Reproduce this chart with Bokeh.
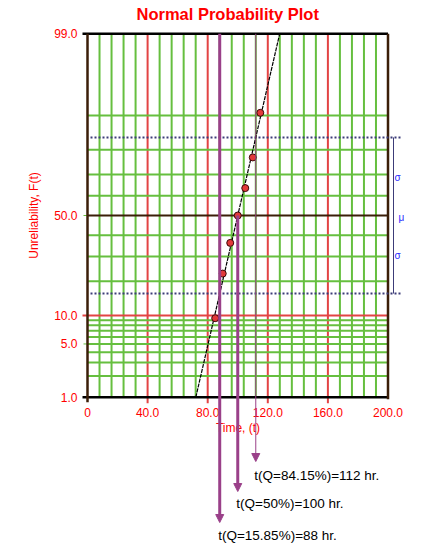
from statistics import NormalDist
from bokeh.plotting import figure
from bokeh.models import Range1d, LinearAxis, FixedTicker, Arrow, NormalHead
from bokeh.core.properties import value
from bokeh.embed import file_html
from bokeh.resources import INLINE

# ---- data ----
times = [85, 90, 95, 100, 105, 110, 115]
unreliability = [9.43, 22.85, 36.29, 50.0, 63.71, 77.15, 90.57]
fit_time = [72.1, 127.9]
fit_F = [1.0, 99.0]
q_times = [112, 100, 88]
q_F = [84.15, 50.0, 15.85]
q_labels = ["t(Q=84.15%)=112 hr.", "t(Q=50%)=100 hr.", "t(Q=15.85%)=88 hr."]
x_ticks = [0, 40, 80, 120, 160, 200]
x_tick_labels = ["0", "40.0", "80.0", "120.0", "160.0", "200.0"]
y_ticks = [1.0, 5.0, 10.0, 50.0, 99.0]
y_tick_labels = ["1.0", "5.0", "10.0", "50.0", "99.0"]
minor_F = [2, 3, 4, 5, 6, 7, 8, 9, 20, 30, 40, 60, 70, 80, 90]
sigma_F = [15.87, 84.13]

nd = NormalDist()
def zf(F):
    return nd.inv_cdf(F / 100.0)

# ---- layout (reference pixel mapping) ----
W, H = 440, 545
OFF = 0
TOP = 24
PX0, SX = 87.0, 1.5025    # x=0 at px 87
PY0, SY = 215.0, 78.1     # z=0 at px 215
def X(px):
    return (px - PX0) / SX
def Y(py):
    return (PY0 - py) / SY

RED = "#e34444"
GREEN = "#66bf3f"
BROWN = "#3b1e08"
PURPLE = "#9a4089"
NAVY = "#3c3c78"
FONT = "Liberation Sans"

p = figure(width=W, height=H, output_backend="svg", toolbar_location=None,
           x_range=Range1d(X(OFF), X(OFF + W)), y_range=Range1d(Y(OFF + H), Y(OFF + TOP)),
           x_axis_location=None, y_axis_location=None,
           min_border=0, min_border_top=TOP)
p.grid.visible = False
p.outline_line_color = None
p.background_fill_color = "white"
p.border_fill_color = "white"

p.title.text = "Normal Probability Plot"
p.title.text_color = "red"
p.title.text_font = FONT
p.title.text_font_size = "16.5px"
p.title.text_font_style = "bold"
p.title.align = "left"
p.title.offset = 136
p.title.standoff = 4

zlo, zhi = zf(1.0), zf(99.0)
xmin, xmax = x_ticks[0], x_ticks[-1]

# vertical grid lines
minor_x = [v for v in range(8, 200, 8) if v % 40 != 0]
p.segment(x0=minor_x, x1=minor_x, y0=[zlo] * len(minor_x), y1=[zhi] * len(minor_x),
          line_color=GREEN, line_width=2)
major_x = x_ticks[1:-1]
p.segment(x0=major_x, x1=major_x, y0=[zlo - 6 / SY] * len(major_x), y1=[zhi] * len(major_x),
          line_color=RED, line_width=2)

# horizontal grid lines
mz = [zf(F) for F in minor_F]
p.segment(x0=[xmin] * len(mz), x1=[xmax] * len(mz), y0=mz, y1=mz, line_color=GREEN, line_width=2)
p.segment(x0=[X(82)], x1=[xmax], y0=[zf(10)], y1=[zf(10)], line_color=RED, line_width=2)
p.segment(x0=[X(83)], x1=[xmin], y0=[zf(5)], y1=[zf(5)], line_color=GREEN, line_width=1)
p.segment(x0=[X(83)], x1=[xmin], y0=[zf(50)], y1=[zf(50)], line_color=GREEN, line_width=1)
p.segment(x0=[xmin], x1=[xmax], y0=[zf(50)], y1=[zf(50)], line_color=BROWN, line_width=2)

# frame lines
p.segment(x0=[X(82), X(82)], x1=[xmax, xmax], y0=[zlo, zhi], y1=[zlo, zhi],
          line_color="black", line_width=2.5)
p.segment(x0=[xmin, xmax], x1=[xmin, xmax], y0=[zlo - 5 / SY, zlo - 2 / SY], y1=[zhi, zhi],
          line_color=BROWN, line_width=2.5)

# +/- one sigma dotted lines and bracket
sz = [zf(F) for F in sigma_F]
p.segment(x0=[X(90)] * 2, x1=[X(400)] * 2, y0=sz, y1=sz, line_color=NAVY, line_width=2,
          line_dash="2 2")
p.segment(x0=[X(393)], x1=[X(393)], y0=[sz[0]], y1=[sz[1]], line_color=NAVY, line_width=1)
p.text(x=[X(394), X(398), X(394)], y=[Y(177), Y(217), Y(255)], text=["σ", "μ", "σ"],
       text_color="#2a2aff", text_font=value(FONT), text_font_size="10px",
       text_baseline="middle", text_align="left")

# fitted line
p.line([float(t) for t in fit_time], [zf(F) for F in fit_F], line_color="black",
       line_width=1.2, line_dash="4 1")

# data points
p.scatter(times, [zf(F) for F in unreliability], size=7, fill_color="#e23a3a",
          line_color="#3a0808", line_width=1)

# arrows for percentiles
tips = [Y(461), Y(491), Y(522)]
starts = [zhi, zf(50), zhi]
widths = [1, 3, 3]
for t, s, e, w in zip(q_times, starts, tips, widths):
    p.add_layout(Arrow(end=NormalHead(size=8, fill_color=PURPLE, line_color=PURPLE),
                       x_start=t, y_start=s, x_end=t, y_end=e,
                       line_color=PURPLE, line_width=w))
p.text(x=[t - 1.0 for t in q_times], y=[Y(475), Y(503), Y(535)], text=q_labels,
       text_color="black", text_font=value(FONT), text_font_size="13.5px",
       text_baseline="middle", text_align="left")

# axes (labels only)
xaxis = LinearAxis(fixed_location=zlo, bounds=(xmin, xmax),
                   ticker=FixedTicker(ticks=x_ticks),
                   major_label_overrides={float(k): v for k, v in zip(x_ticks, x_tick_labels)},
                   axis_line_color=None, major_tick_line_color=None,
                   minor_tick_line_color=None, major_tick_in=0, major_tick_out=0,
                   major_label_standoff=11, major_label_text_color="red",
                   major_label_text_font=FONT, major_label_text_font_size="12px",
                   axis_label="Time, (t)", axis_label_text_color="red",
                   axis_label_text_font=FONT, axis_label_text_font_size="12px",
                   axis_label_text_font_style="normal", axis_label_standoff=0)
p.add_layout(xaxis, "below")

yz = [zf(F) for F in y_ticks]
yaxis = LinearAxis(fixed_location=0, bounds=(zlo, zhi),
                   ticker=FixedTicker(ticks=yz),
                   major_label_overrides={k: v for k, v in zip(yz, y_tick_labels)},
                   axis_line_color=None, major_tick_line_color=None,
                   minor_tick_line_color=None, major_tick_in=0, major_tick_out=0,
                   major_label_standoff=10, major_label_text_color="red",
                   major_label_text_font=FONT, major_label_text_font_size="12px",
                   axis_label="Unreliability, F(t)", axis_label_text_color="red",
                   axis_label_text_font=FONT, axis_label_text_font_size="12px",
                   axis_label_text_font_style="normal", axis_label_standoff=10)
p.add_layout(yaxis, "left")

open("out.html", "w").write(file_html(p, INLINE))
